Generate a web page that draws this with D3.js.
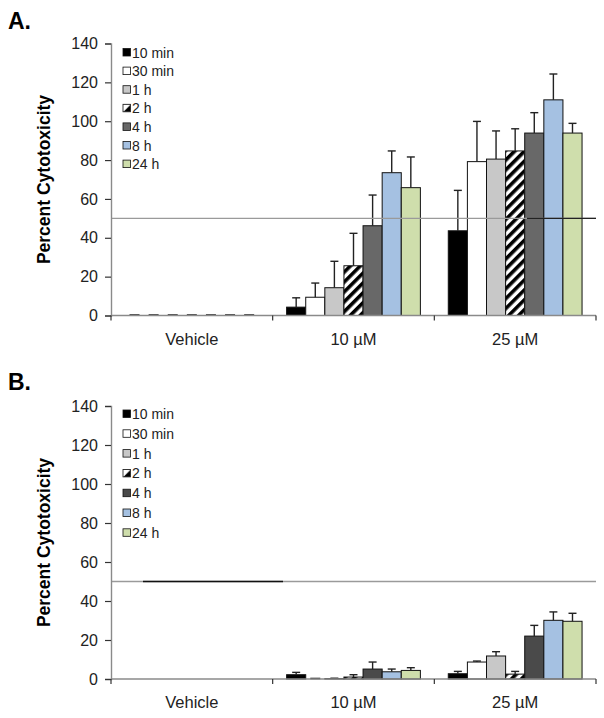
<!DOCTYPE html>
<html><head><meta charset="utf-8">
<script src="https://cdn.jsdelivr.net/npm/d3@7/dist/d3.min.js"></script>
<style>body{margin:0;background:#fff}svg{display:block}</style>
</head><body>
<svg id="chart" width="604" height="718"></svg>
<script>
// ---- data ----
const categories = ["Vehicle", "10 \u00b5M", "25 \u00b5M"];
const series = ["10 min", "30 min", "1 h", "2 h", "4 h", "8 h", "24 h"];
const yTicks = [0, 20, 40, 60, 80, 100, 120, 140];
const threshold = 50;
// Panel A: mean values [category][series], and upper error
const valuesA = [
  [0, 0, 0, 0, 0, 0, 0],
  [4.3, 9.4, 14.3, 25.6, 46.2, 73.5, 65.8],
  [43.6, 79.2, 80.5, 84.7, 93.9, 111.0, 93.9]
];
const errorsA = [
  [0, 0, 0, 0, 0, 0, 0],
  [4.8, 7.3, 13.6, 16.7, 15.8, 11.2, 15.8],
  [20.8, 20.7, 14.5, 11.4, 10.5, 13.3, 5.0]
];
// Panel B
const valuesB = [
  [null, null, null, null, null, null, null],
  [2.2, 0, 0.2, 1.0, 5.1, 3.7, 4.4],
  [2.7, 8.7, 11.8, 2.5, 22.0, 30.1, 29.6]
];
const errorsB = [
  [0, 0, 0, 0, 0, 0, 0],
  [1.2, 0, 0.2, 1.2, 3.6, 1.4, 1.4],
  [1.2, 0.5, 2.2, 1.4, 5.5, 4.3, 4.1]
];

// ---- styles ----
const fills = ["#000000", "#ffffff", "#c8c8c8", "url(#hatch)", "#686868", "#a5c1e2", "#cfdeac"];
const fillsB = ["#000000", "#ffffff", "#c8c8c8", "url(#hatch)", "#4a4a4a", "#a5c1e2", "#cfdeac"];
const font = "'Liberation Sans', Arial, sans-serif";

const svg = d3.select("#chart");
const defs = svg.append("defs");
const pat = defs.append("pattern").attr("id", "hatch").attr("patternUnits", "userSpaceOnUse")
  .attr("width", 7).attr("height", 7).attr("patternTransform", "rotate(45)");
pat.append("rect").attr("width", 7).attr("height", 7).attr("fill", "#fff");
pat.append("rect").attr("width", 3.6).attr("height", 7).attr("fill", "#000");
const patL = defs.append("pattern").attr("id", "hatchLeg").attr("patternUnits", "objectBoundingBox")
  .attr("width", 1).attr("height", 1);
patL.append("rect").attr("width", 8).attr("height", 8).attr("fill", "#fff");
patL.append("path").attr("d", "M0,8 L8,0 L8,8 Z").attr("fill", "#000");

function panel(cfg) {
  const g = svg.append("g");
  const x = d3.scaleBand().domain(categories).range([111, 596]).paddingInner(0).paddingOuter(0);
  const xs = d3.scaleBand().domain(series).range([0, x.bandwidth()]).paddingInner(0).paddingOuter(0.73);
  const y = d3.scaleLinear().domain([0, 140]).range([cfg.y0, cfg.yTop]);

  // panel letter
  g.append("text").attr("x", 8).attr("y", cfg.letterY).text(cfg.letter)
    .attr("font-family", font).attr("font-weight", "bold").attr("font-size", 23).attr("fill", "#000");

  // y title
  g.append("text").attr("transform", `translate(50,${(cfg.y0 + cfg.yTop) / 2}) rotate(-90)`)
    .attr("text-anchor", "middle").attr("font-family", font).attr("font-weight", "bold")
    .attr("font-size", 17.5).attr("fill", "#000").text("Percent Cytotoxicity");

  // bars
  categories.forEach((c, ci) => {
    series.forEach((s, si) => {
      const v = cfg.values[ci][si];
      if (v === null) return;
      const bx = x(c) + xs(s), bw = xs.bandwidth();
      if (v === 0) {
        if (cfg.zeroDash) {
          g.append("line").attr("x1", bx + bw / 2 - 5).attr("x2", bx + bw / 2 + 5)
            .attr("y1", y(0) - 0.5).attr("y2", y(0) - 0.5).attr("stroke", "#222").attr("stroke-width", 1.6);
        }
        return;
      }
      g.append("rect").attr("x", bx).attr("y", y(v)).attr("width", bw).attr("height", y(0) - y(v))
        .attr("fill", cfg.fills[si]).attr("stroke", "#111").attr("stroke-width", 1);
      const e = cfg.errors[ci][si];
      if (e > 0) {
        const cx = bx + bw / 2;
        g.append("line").attr("x1", cx).attr("x2", cx).attr("y1", y(v)).attr("y2", y(v + e))
          .attr("stroke", "#222").attr("stroke-width", 1.4);
        g.append("line").attr("x1", cx - 4).attr("x2", cx + 4).attr("y1", y(v + e)).attr("y2", y(v + e))
          .attr("stroke", "#222").attr("stroke-width", 1.4);
      }
    });
  });

  // threshold line segments (drawn over the bars)
  const ty = y(threshold);
  cfg.lineSegs.forEach(s => {
    g.append("line").attr("x1", s[0]).attr("x2", s[1]).attr("y1", ty).attr("y2", ty)
      .attr("stroke", s[2]).attr("stroke-width", 1.4);
  });

  // y axis
  const ya = g.append("g").attr("transform", "translate(111,0)")
    .call(d3.axisLeft(y).tickValues(yTicks).tickSize(6).tickPadding(7).tickSizeOuter(6));
  ya.select(".domain").attr("stroke", "#8a8a8a").attr("stroke-width", 1.4);
  ya.selectAll(".tick line").attr("stroke", "#333").attr("stroke-width", 1.2);
  ya.selectAll(".tick text").attr("font-family", font).attr("font-size", 16).attr("fill", "#222");

  // x axis
  g.append("line").attr("x1", 111).attr("x2", 596).attr("y1", y(0)).attr("y2", y(0))
    .attr("stroke", "#8a8a8a").attr("stroke-width", 1.4);
  const bounds = categories.map(c => x(c)).concat([x(categories[categories.length - 1]) + x.bandwidth()]);
  bounds.forEach(b => {
    g.append("line").attr("x1", b).attr("x2", b).attr("y1", y(0)).attr("y2", y(0) + 5)
      .attr("stroke", "#333").attr("stroke-width", 1.2);
  });
  categories.forEach(c => {
    g.append("text").attr("x", x(c) + x.bandwidth() / 2).attr("y", y(0) + 29)
      .attr("text-anchor", "middle").attr("font-family", font).attr("font-size", 16.5)
      .attr("fill", "#222").text(c);
  });

  // legend
  const lg = g.append("g");
  series.forEach((s, si) => {
    const ly = cfg.legY + si * cfg.legStep;
    lg.append("rect").attr("x", 123).attr("y", ly - 4).attr("width", 7.5).attr("height", 7.5)
      .attr("fill", si === 3 ? "url(#hatchLeg)" : cfg.fills[si]).attr("stroke", "#111").attr("stroke-width", 0.8);
    lg.append("text").attr("x", 132).attr("y", ly + 5).attr("font-family", font).attr("font-size", 14)
      .attr("fill", "#222").text(s);
  });
}

panel({ letter: "A.", letterY: 29, y0: 315.5, yTop: 43.5, values: valuesA, errors: errorsA, fills: fills,
  zeroDash: true, legY: 52.5, legStep: 18.6,
  lineSegs: [[111, 596, "#9a9a9a"], [527, 596, "#222"]] });
panel({ letter: "B.", letterY: 390, y0: 679, yTop: 406, values: valuesB, errors: errorsB, fills: fillsB,
  zeroDash: true, legY: 414, legStep: 19.8,
  lineSegs: [[111, 596, "#9a9a9a"], [143, 283, "#111"]] });
</script>
</body></html>
